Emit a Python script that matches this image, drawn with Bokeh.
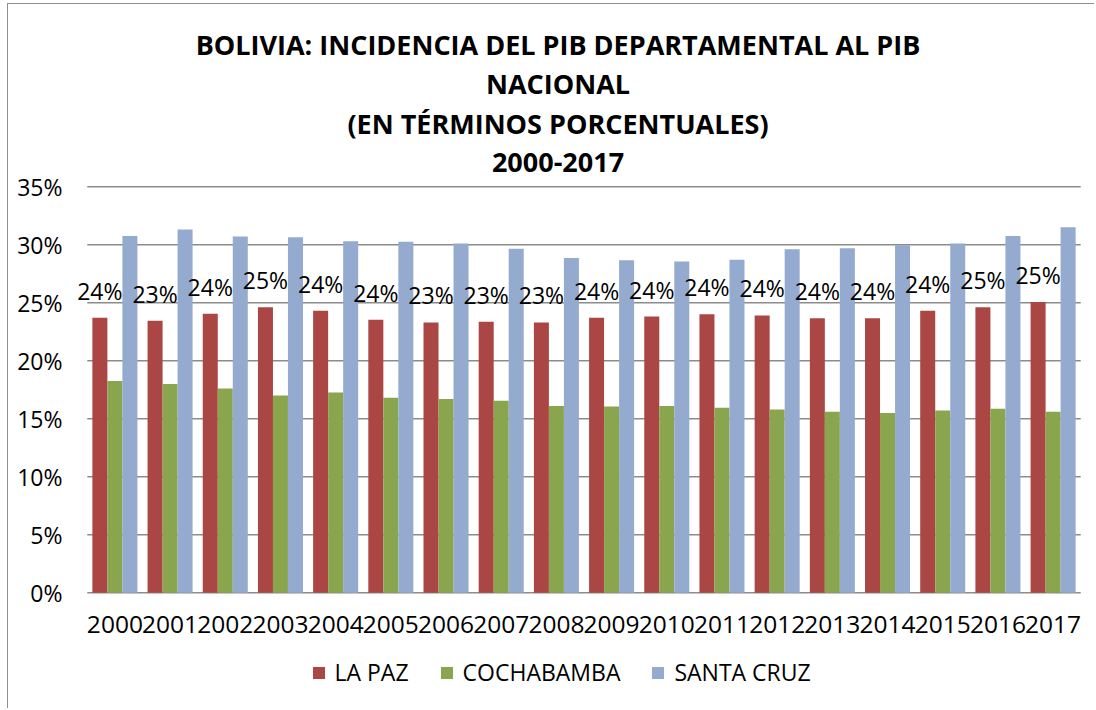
from bokeh.plotting import figure
from bokeh.models import (ColumnDataSource, FactorRange, Range1d, Legend, LegendItem,
                          Label, PrintfTickFormatter, FixedTicker)
from bokeh.transform import dodge
from bokeh.core.properties import value
from bokeh.embed import file_html
from bokeh.resources import INLINE

# ---- data (percent of national GDP) ----
years = ["2000", "2001", "2002", "2003", "2004", "2005", "2006", "2007", "2008",
         "2009", "2010", "2011", "2012", "2013", "2014", "2015", "2016", "2017"]
la_paz = [23.7, 23.45, 24.05, 24.6, 24.3, 23.52, 23.3, 23.35, 23.3,
          23.7, 23.8, 24.0, 23.9, 23.65, 23.65, 24.3, 24.6, 25.05]
cochabamba = [18.25, 18.0, 17.6, 17.0, 17.25, 16.8, 16.7, 16.55, 16.1,
              16.05, 16.1, 15.95, 15.8, 15.6, 15.5, 15.7, 15.85, 15.6]
santa_cruz = [30.75, 31.3, 30.7, 30.65, 30.3, 30.25, 30.1, 29.65, 28.85,
              28.65, 28.55, 28.7, 29.6, 29.7, 29.95, 30.1, 30.75, 31.5]
series_names = ["LA PAZ", "COCHABAMBA", "SANTA CRUZ"]
y_ticks = [0, 5, 10, 15, 20, 25, 30, 35]
title_lines = ["BOLIVIA: INCIDENCIA DEL PIB DEPARTAMENTAL AL PIB",
               "NACIONAL",
               "(EN TÉRMINOS PORCENTUALES)",
               "2000-2017"]

# ---- styles / layout ----
FONT = "Open Sans"
C_RED = "#AA4643"
C_GREEN = "#89A54E"
C_BLUE = "#94AACF"
GRID = "#8C8C8C"
BW = 0.272

W, H = 1087, 705
CANVAS_TOP, CANVAS_LEFT = 4.5, 8.5      # page position of the canvas
Y0_PX, Y35_PX = 592.7, 186.7            # page y of the 0% and 35% gridlines
PPU = (Y0_PX - Y35_PX) / 35.0
Y_START = -((CANVAS_TOP + H) - Y0_PX) / PPU
Y_END = 35 + (Y35_PX - CANVAS_TOP) / PPU
MB_LEFT = 65
FRAME_LEFT = CANVAS_LEFT + MB_LEFT

src = ColumnDataSource(dict(
    year=years, lp=la_paz, cb=cochabamba, sc=santa_cruz,
    lp_label=[f"{round(v)}%" for v in la_paz],
))
grid_src = ColumnDataSource(dict(
    gx0=[years[0]] * len(y_ticks), gx1=[years[-1]] * len(y_ticks), gy=y_ticks,
))

p = figure(x_range=FactorRange(*years, range_padding=0.25,
                               range_padding_units="absolute"),
           y_range=Range1d(Y_START, Y_END), width=W, height=H,
           output_backend="svg", toolbar_location=None,
           min_border_left=MB_LEFT, min_border_right=1, min_border_top=0,
           min_border_bottom=0)
p.outline_line_color = None
p.background_fill_color = "white"
p.border_fill_color = "white"
p.styles = {"margin-left": "7px", "margin-top": "3px",
            "border-left": "1.5px solid #8f8f8f",
            "border-top": "1.5px solid #8f8f8f"}

# gridlines spanning the categories only
p.segment(x0=dodge("gx0", -0.5, range=p.x_range), x1=dodge("gx1", 0.5, range=p.x_range),
          y0="gy", y1="gy", source=grid_src, line_color=GRID, line_width=1.5)

r1 = p.vbar(x=dodge("year", -BW, range=p.x_range), top="lp", width=BW, source=src,
            fill_color=C_RED, line_color=None)
r2 = p.vbar(x=dodge("year", 0, range=p.x_range), top="cb", width=BW, source=src,
            fill_color=C_GREEN, line_color=None)
r3 = p.vbar(x=dodge("year", BW, range=p.x_range), top="sc", width=BW, source=src,
            fill_color=C_BLUE, line_color=None)

# value labels above the LA PAZ bars
p.text(x=dodge("year", -BW, range=p.x_range), y="lp", text="lp_label", source=src,
       text_align="center", text_baseline="alphabetic", y_offset=-27,
       text_font=value(FONT), text_font_size="23px", text_color="black")

# category (year) labels under the 0% line
p.text(x="year", y=0, text="year", source=src,
       text_align="center", text_baseline="alphabetic", y_offset=31.5,
       text_font=value(FONT), text_font_size="24.5px", text_color="black")

p.xgrid.grid_line_color = None
p.ygrid.grid_line_color = None
p.xaxis.visible = False

# y axis
p.yaxis.ticker = FixedTicker(ticks=y_ticks)
p.yaxis.formatter = PrintfTickFormatter(format="%d%%")
p.yaxis.axis_line_color = None
p.yaxis.major_tick_line_color = None
p.yaxis.minor_tick_line_color = None
p.yaxis.major_tick_out = 0
p.yaxis.major_tick_in = 0
p.yaxis.major_label_standoff = 11
p.yaxis.major_label_text_font = FONT
p.yaxis.major_label_text_font_size = "23px"
p.yaxis.major_label_text_color = "black"

# legend (inside the frame, under the year labels)
legend = Legend(items=[LegendItem(label=series_names[0], renderers=[r1]),
                       LegendItem(label=series_names[1], renderers=[r2]),
                       LegendItem(label=series_names[2], renderers=[r3])],
                orientation="horizontal", location=(311 - FRAME_LEFT, 21),
                glyph_width=15, glyph_height=15, label_standoff=9, spacing=30,
                padding=0, margin=0, border_line_color=None,
                background_fill_alpha=0,
                label_text_font=FONT, label_text_font_size="23px",
                label_text_color="black")
p.add_layout(legend, "center")

# title lines (screen units measured from the frame's bottom-left)
title_page_y = [44.5, 83.5, 123, 162.5]
for txt, py in zip(title_lines, title_page_y):
    p.add_layout(Label(x=558 - FRAME_LEFT, y=CANVAS_TOP + H - py,
                       x_units="screen", y_units="screen", text=txt,
                       text_align="center", text_baseline="middle",
                       text_font=FONT, text_font_style="bold",
                       text_font_size="27px", text_color="black"))

open("out.html", "w").write(file_html(p, INLINE))
